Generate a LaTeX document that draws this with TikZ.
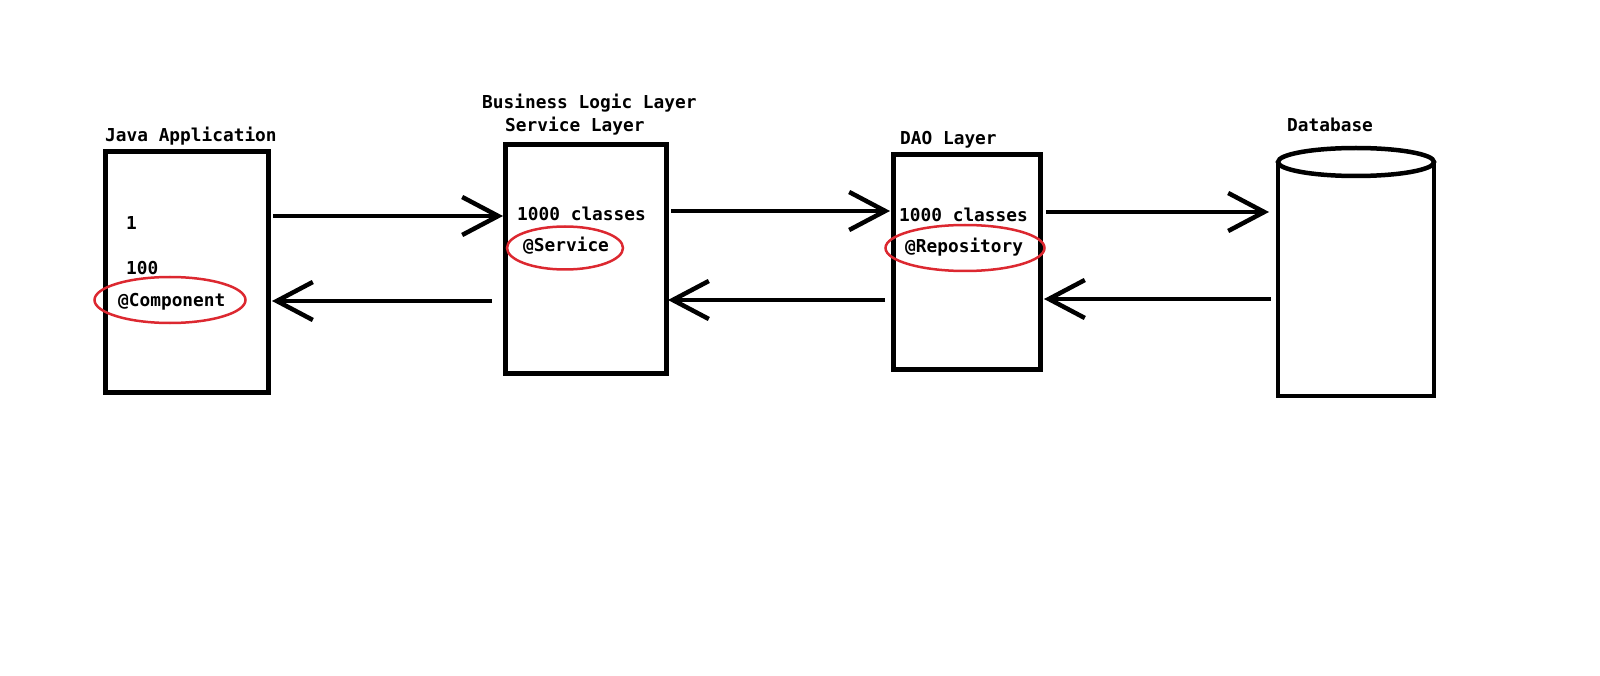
\documentclass[tikz,border=0pt]{standalone}
\usepackage{fontspec}
\setmainfont{DejaVu Sans Mono}
\usetikzlibrary{arrows.meta,shapes.geometric}
\definecolor{ringred}{RGB}{220,40,48}
\tikzset{
	layer/.style={draw, rectangle, line width=5pt, inner sep=0pt, outer sep=0pt},
	txt/.style={anchor=base west, inner sep=0pt, font=\fontsize{17.8}{20}\selectfont\bfseries},
	ring/.style={draw=ringred, ellipse, line width=2.5pt, inner sep=0pt},
	flow/.style={draw, line width=4.5pt, -{Straight Barb[length=36pt,width=38pt]}}
}
\begin{document}
\begin{tikzpicture}[x=1pt,y=-1pt]
		\useasboundingbox (0,0) rectangle (1600,676);
		\begin{scope}[every node/.style={layer}]
			\node (java) [minimum width=163pt, minimum height=240pt] at (186.5,272) {};
			\node (svc) [minimum width=161pt, minimum height=228pt] at (585.5,259) {};
			\node (dao) [minimum width=147pt, minimum height=214pt] at (966.5,262) {};
		\end{scope}
		% database cylinder
		\node (db) [minimum width=156pt, minimum height=234pt, inner sep=0pt, outer sep=0pt] at (1356,279) {};
		\draw [line width=4.5pt] (db.north west) -- (db.south west) -- (db.south east) -- (db.north east);
		\draw [line width=4.5pt] (db.north) ellipse [x radius=78pt, y radius=14pt];
		\begin{scope}[every node/.style={ring}]
			\node (compring) [minimum width=151pt, minimum height=46pt] at (170,300) {};
			\node (svcring) [minimum width=116pt, minimum height=43pt] at (565,248) {};
			\node (repring) [minimum width=159pt, minimum height=46pt] at (965,248) {};
		\end{scope}
		\begin{scope}[every node/.style={txt}]
			\node (javat) at (105,142) {Java Application};
			\node (one) at (126,230) {1};
			\node (hundred) at (126,275) {100};
			\node (comp) at (118,306) {@Component};
			\node (blt) at (482,109) {Business Logic Layer};
			\node (svct) at (505,132) {Service Layer};
			\node (svccls) at (517,221) {1000 classes};
			\node (svcann) at (523,252) {@Service};
			\node (daot) at (900,145) {DAO Layer};
			\node (daocls) at (899,222) {1000 classes};
			\node (daoann) at (905,253) {@Repository};
			\node (dbt) at (1287,132) {Database};
		\end{scope}
		\begin{scope}[every edge/.style={flow}]
			\path [shorten <=5pt, shorten >=2pt] ([yshift=56pt]java.east) edge ([yshift=43pt]svc.west);
			\path [shorten <=13pt, shorten >=4pt] ([yshift=-42pt]svc.west) edge ([yshift=-29pt]java.east);
			\path [shorten <=5pt, shorten >=3pt] ([yshift=48pt]svc.east) edge ([yshift=51pt]dao.west);
			\path [shorten <=8pt, shorten >=2pt] ([yshift=-38pt]dao.west) edge ([yshift=-41pt]svc.east);
			\path [shorten <=6pt, shorten >=9pt] ([yshift=50pt]dao.east) edge ([yshift=67pt]db.west);
			\path [shorten <=7pt, shorten >=4pt] ([yshift=-20pt]db.west) edge ([yshift=-37pt]dao.east);
		\end{scope}
	\end{tikzpicture}
\end{document}
